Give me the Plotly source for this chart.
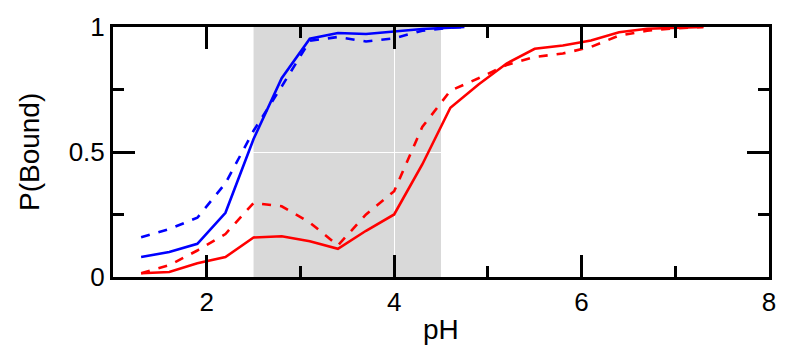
import plotly.graph_objects as go

# ---- data ----
ph = [1.3, 1.6, 1.9, 2.2, 2.5, 2.8, 3.1, 3.4, 3.7, 4.0, 4.3, 4.6, 4.9,
      5.2, 5.5, 5.8, 6.1, 6.4, 6.7, 7.0, 7.3]
red_solid = [0.015, 0.02, 0.055, 0.08, 0.158, 0.163, 0.143, 0.113, 0.185, 0.25,
             0.45, 0.677, 0.77, 0.854, 0.913, 0.926, 0.946, 0.979, 0.993, 0.998, 1.0]
red_dash = [0.015, 0.047, 0.106, 0.172, 0.296, 0.283, 0.218, 0.126, 0.25, 0.343,
            0.60, 0.745, 0.795, 0.848, 0.88, 0.894, 0.92, 0.966, 0.985, 0.995, 1.0]
ph_blue = [1.3, 1.6, 1.9, 2.2, 2.5, 2.8, 3.1, 3.4, 3.7, 4.0, 4.3, 4.6, 4.75]
blue_solid = [0.08, 0.10, 0.133, 0.257, 0.552, 0.795, 0.953, 0.976, 0.972, 0.981,
              0.992, 0.997, 1.0]
blue_dash = [0.159, 0.192, 0.237, 0.375, 0.585, 0.762, 0.945, 0.96, 0.942, 0.955,
             0.985, 0.998, 1.0]
shade_range = [2.5, 4.5]
x_range = [1, 8]
y_range = [0, 1]
x_ticks = [2, 4, 6, 8]
y_ticks = [0, 0.5, 1]
x_title = "pH"
y_title = "P(Bound)"

BLUE = "#0000ff"
RED = "#ff0000"
FONT = "Liberation Sans"
LW = 2.6

fig = go.Figure()
fig.add_trace(go.Scatter(x=ph_blue, y=blue_dash, mode="lines", showlegend=False,
                         line=dict(color=BLUE, width=LW, dash="dash")))
fig.add_trace(go.Scatter(x=ph, y=red_dash, mode="lines", showlegend=False,
                         line=dict(color=RED, width=LW, dash="dash")))
fig.add_trace(go.Scatter(x=ph_blue, y=blue_solid, mode="lines", name="1", showlegend=False,
                         line=dict(color=BLUE, width=LW)))
fig.add_trace(go.Scatter(x=ph, y=red_solid, mode="lines", name="2", showlegend=False,
                         line=dict(color=RED, width=LW)))

fig.add_vrect(x0=shade_range[0], x1=shade_range[1], fillcolor="#d9d9d9",
              line_width=0, layer="below", opacity=1)

fig.update_xaxes(range=x_range, dtick=x_ticks[1] - x_ticks[0],
                 ticks="inside", ticklen=22, tickwidth=3, tickcolor="black",
                 showline=True, linecolor="black", linewidth=3, mirror="ticks",
                 minor=dict(dtick=1, ticks="inside", ticklen=11, tickwidth=3,
                            tickcolor="black"),
                 tickfont=dict(family=FONT, size=26, color="black"))
fig.update_yaxes(range=y_range, dtick=y_ticks[1] - y_ticks[0],
                 ticks="inside", ticklen=22, tickwidth=3, tickcolor="black",
                 showline=True, linecolor="black", linewidth=3, mirror="ticks",
                 minor=dict(dtick=0.25, ticks="inside", ticklen=11, tickwidth=3,
                            tickcolor="black"),
                 tickfont=dict(family=FONT, size=26, color="black"))

fig.add_annotation(text=x_title, xref="paper", yref="paper", x=0.5, y=-0.209,
                   xanchor="center", yanchor="middle", showarrow=False,
                   font=dict(family=FONT, size=28, color="black"))
fig.add_annotation(text=y_title, xref="paper", yref="paper", x=-0.128, y=0.5,
                   xanchor="center", yanchor="middle", showarrow=False, textangle=-90,
                   font=dict(family=FONT, size=28, color="black"))

fig.update_layout(width=788, height=358, margin=dict(l=113, r=13, t=23, b=81),
                  plot_bgcolor="white")

fig.write_html("out.html")
